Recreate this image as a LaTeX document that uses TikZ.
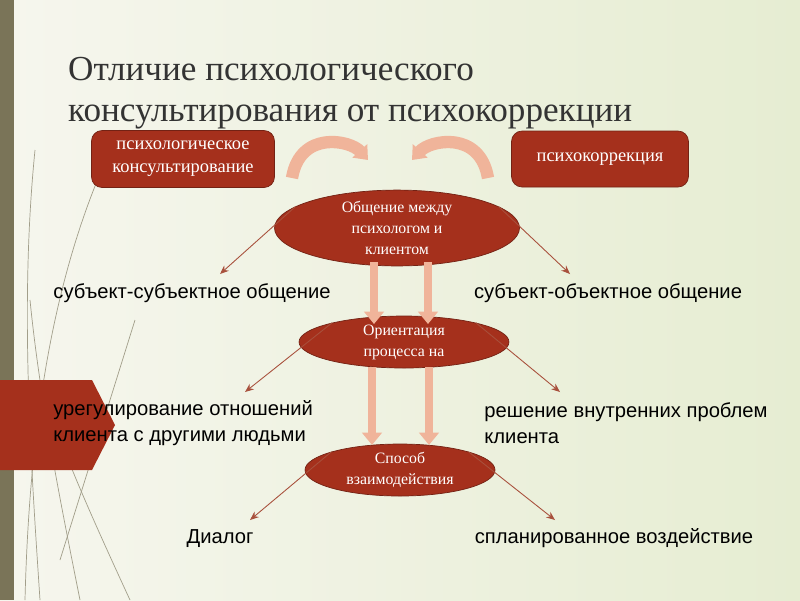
\documentclass[tikz,border=0pt]{standalone}
\usepackage{fontspec}
\setmainfont{Liberation Serif}
\newfontfamily\sansf{Liberation Sans}
\usetikzlibrary{shapes.geometric,arrows.meta}
\definecolor{dred}{HTML}{A5301C}
\definecolor{salm}{HTML}{F0B49A}
\definecolor{thinc}{HTML}{A8503C}
\definecolor{bgl}{HTML}{F6F6EE}
\definecolor{bgr}{HTML}{E6EDD2}
\definecolor{bar}{HTML}{7A7458}
\tikzset{
 box/.style={draw=dred!70!black,fill=dred,rounded corners=6pt,text=white,align=center,font=\fontsize{10.5}{13}\selectfont},
 ell/.style={ellipse,draw=dred!70!black,fill=dred,text=white,align=center,inner sep=0pt,font=\fontsize{9}{12}\selectfont},
 lab/.style={font=\sansf\fontsize{11.5}{14.5}\selectfont,align=left,inner sep=0pt},
 thin/.style={draw=thinc,line width=0.5pt,-{Stealth[length=5pt,width=4pt]}},
 fat/.style={draw=salm,line width=5pt,-{Triangle[length=7pt,width=11pt]}},
}
\begin{document}
\begin{tikzpicture}[x=0.02cm,y=-0.02cm]
\useasboundingbox (0,0) rectangle (800,600);
\shade[left color=bgl, right color=bgr] (0,0) rectangle (800,600);
\fill[bar] (0,0) rectangle (14,600);
\draw[bar!70,line width=0.4pt] (25,600) .. controls (30,400) and (60,250) .. (120,130);
\draw[bar!70,line width=0.4pt] (40,600) .. controls (30,450) and (20,300) .. (35,150);
\draw[bar!70,line width=0.4pt] (80,600) .. controls (60,500) and (40,400) .. (30,300);
\draw[bar!70,line width=0.4pt] (130,600) .. controls (70,470) and (50,420) .. (45,380);
\draw[bar!70,line width=0.4pt] (60,560) -- (135,320);
\fill[dred] (0,380) -- (92,380) -- (115,425) -- (92,470) -- (0,470) -- cycle;
\node[anchor=west,font=\fontsize{20}{23}\selectfont,text=black!80,align=left] (t) at (62,93) {Отличие психологического\\консультирования от психокоррекции};
\node[box,minimum width=3.66cm,minimum height=1.14cm] (b1) at (183,159) {психологическое\\консультирование};
\node[box,minimum width=3.54cm,minimum height=1.12cm] (b2) at (600,159) {психокоррекция};
\coordinate (c1s) at (292,178); \coordinate (c1e) at (368,160);
\coordinate (c2s) at (488,178); \coordinate (c2e) at (412,160);
\draw[fat,line width=7pt] (c1s) .. controls (300,130) and (350,140) .. (c1e);
\draw[fat,line width=7pt] (c2s) .. controls (480,130) and (430,140) .. (c2e);
\node[ell,minimum width=4.9cm,minimum height=1.4cm] (e1) at (397,228) {Общение между\\психологом и\\клиентом};
\node[ell,minimum width=4.2cm,minimum height=1.04cm] (e2) at (404,342) {Ориентация\\процесса на};
\node[ell,minimum width=3.8cm,minimum height=1.04cm] (e3) at (400,470) {Способ\\взаимодействия};
\node[lab,anchor=base] (l1) at (192,298) {субъект-субъектное общение};
\node[lab,anchor=base] (r1) at (608,298) {субъект-объектное общение};
\node[lab,anchor=west] (l2) at (53,423) {урегулирование отношений\\клиента с другими людьми};
\node[lab,anchor=west] (r2) at (484,423) {решение внутренних проблем\\клиента};
\node[lab,anchor=base] (l3) at (220,543) {Диалог};
\node[lab,anchor=base] (r3) at (614,543) {спланированное воздействие};
\draw[thin] (e1.168) -- (220,274);
\draw[thin] (e1.12) -- (570,274);
\draw[thin] (e2.165) -- (245,392);
\draw[thin] (e2.15) -- (560,392);
\draw[thin] (e3.165) -- (250,520);
\draw[thin] (e3.15) -- (555,520);
\draw[fat] (374,262) -- (374,324);
\draw[fat] (428,262) -- (428,324);
\draw[fat] (372,367) -- (372,445);
\draw[fat] (429,367) -- (429,445);
\end{tikzpicture}
\end{document}
